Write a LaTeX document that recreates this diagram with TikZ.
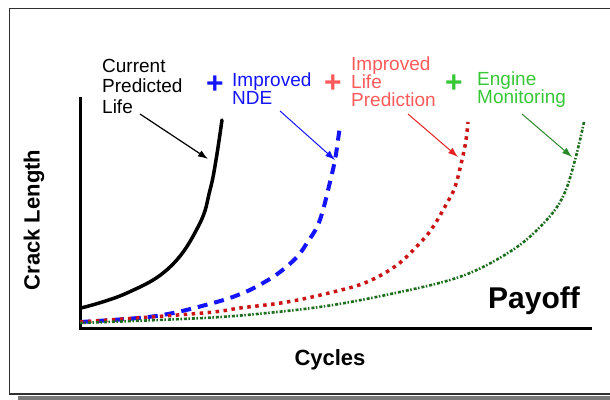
\documentclass[tikz,border=0pt]{standalone}
\usepackage{fontspec}
\setmainfont{Liberation Sans}
\usetikzlibrary{arrows.meta}
\definecolor{lblblue}{HTML}{1414FF}
\definecolor{lblred}{HTML}{FF5A5A}
\definecolor{lblgreen}{HTML}{36C836}
\definecolor{crvred}{HTML}{CC1414}
\definecolor{arrred}{HTML}{E42222}
\definecolor{crvgreen}{HTML}{1E6E1E}
\definecolor{arrgreen}{HTML}{2A8A2A}
\definecolor{framegray}{HTML}{303030}
\definecolor{shadowgray}{HTML}{7A7A7A}
\tikzset{
  lbl/.style={inner sep=0pt, anchor=north west, align=left, font=\fontsize{19}{18}\selectfont},
  plussign/.style={inner sep=0pt, font=\fontsize{30}{30}\selectfont\bfseries},
  pointer/.style={line width=1.2pt, -{Latex[length=10pt,width=7pt]}},
  axis/.style={line width=3pt, line cap=rect},
}
\begin{document}
\begin{tikzpicture}[x=1pt,y=-1pt]
\useasboundingbox (0,0) rectangle (610,399);
% frame
\fill[shadowgray] (18,395.5) rectangle (612,399.5);
\draw[line width=1.6pt, framegray] (612,8.5) -- (9.3,8.5) -- (9.3,394.2) -- (612,394.2);
% axes
\coordinate (org) at (80,328);
\coordinate (ytop) at (80,98);
\coordinate (xend) at (590,328);
\draw[axis] (ytop) -- (org) -- (xend);
% curves
\draw[line width=3.5pt, black, line cap=round]
  plot[smooth, tension=0.7] coordinates {(81,308) (127,293) (170,267) (199,225) (210,190) (216,160) (222,120)};
\draw[line width=4pt, lblblue, dash pattern=on 10pt off 7pt]
  plot[smooth, tension=0.6] coordinates {(80,322) (156,316) (213,303) (243,293) (263,283) (280,272) (297,257) (307,243) (317,227) (323,210) (330,182) (335,160) (338,140) (340,126)};
\draw[line width=3.5pt, crvred, dash pattern=on 3.5pt off 4.5pt]
  plot[smooth, tension=0.6] coordinates {(80,322) (203,313) (240,308) (287,302) (333,292) (367,282) (397,265) (420,243) (433,227) (447,203) (455,187) (462,160) (466,140) (468,122)};
\draw[line width=2.6pt, crvgreen, dash pattern=on 3pt off 1.5pt on 1.5pt off 2pt]
  plot[smooth, tension=0.6] coordinates {(80,323) (203,318) (267,313) (333,305) (400,292) (450,280) (483,267) (517,247) (540,227) (557,207) (567,187) (575,160) (580,140) (584,122)};
% labels
\node[lbl, font=\fontsize{19}{20.5}\selectfont] (cur) at (102,59) {Current\\Predicted\\Life};
\node[plussign, text=lblblue] (pblue) at (215,84.5) {+};
\node[lbl, text=lblblue] (nde) at (232,73) {Improved\\NDE};
\node[plussign, text=lblred] (pred) at (333,84) {+};
\node[lbl, text=lblred] (life) at (351,57) {Improved\\Life\\Prediction};
\node[plussign, text=lblgreen] (pgreen) at (454,83.5) {+};
\node[lbl, text=lblgreen] (eng) at (477,72) {Engine\\Monitoring};
% arrows
\coordinate (a1s) at (140,114);
\coordinate (a1e) at (208,159);
\coordinate (a2s) at (280,111);
\coordinate (a2e) at (335,160);
\coordinate (a3s) at (408,114);
\coordinate (a3e) at (458,157);
\coordinate (a4s) at (522,114);
\coordinate (a4e) at (572,157);
\draw[pointer, black] (a1s) -- (a1e);
\draw[pointer, lblblue, line width=1pt] (a2s) -- (a2e);
\draw[pointer, arrred, line width=1pt] (a3s) -- (a3e);
\draw[pointer, arrgreen, line width=1pt] (a4s) -- (a4e);
% axis titles
\node[inner sep=0pt, rotate=90, font=\fontsize{22}{22}\selectfont\bfseries] (ylab) at (34,220) {Crack Length};
\node[inner sep=0pt, anchor=base, font=\fontsize{22}{22}\selectfont\bfseries] (xlab) at (330,365) {Cycles};
\node[inner sep=0pt, anchor=base west, font=\fontsize{30}{30}\selectfont\bfseries] (pay) at (488,308) {Payoff};
\end{tikzpicture}
\end{document}
